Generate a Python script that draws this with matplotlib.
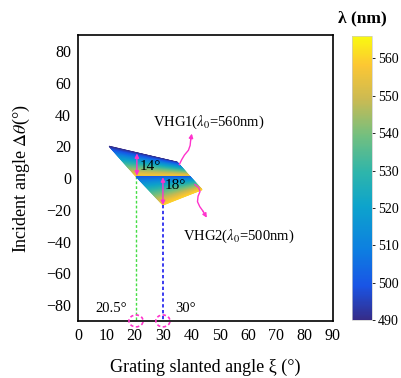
import numpy as np
import matplotlib
matplotlib.use("Agg")
import matplotlib.pyplot as plt
from matplotlib.colors import LinearSegmentedColormap
from matplotlib.patches import Ellipse

plt.rcParams['font.family'] = ['Liberation Serif', 'DejaVu Serif']
plt.rcParams['mathtext.fontset'] = 'stix'

# axis ticks
xi_ticks = [0, 10, 20, 30, 40, 50, 60, 70, 80, 90]
theta_ticks = [-80, -60, -40, -20, 0, 20, 40, 60, 80]
lam_ticks = [490, 500, 510, 520, 530, 540, 550, 560]

# band corners: first edge (a0, a1) and opposite edge (b0, b1)
vhg1_xi = [11, 35, 20.5, 39.5]
vhg1_theta = [20, 10, 1, 1]
vhg1_lam = [490, 560]

vhg2_xi = [20.5, 39.5, 30, 43.8]
vhg2_theta = [1, 1, -17, -7.3]
vhg2_lam = [500, 560]

# design slant angles
xi_design = [20.5, 30]
xi_labels = ['20.5°', '30°']

# squiggly pointers to the band labels
ptr1_xi = [35.8, 36.6, 37.6, 39.0, 39.6, 39.8, 40.2]
ptr1_theta = [8.5, 11.5, 14.5, 17.5, 20.5, 24.0, 28.0]
ptr2_xi = [41.3, 42.6, 43.1, 42.4, 42.2, 43.0, 44.2, 45.5]
ptr2_theta = [-4.1, -6.0, -8.5, -11.5, -14.9, -18.0, -21.0, -25.0]

parula = LinearSegmentedColormap.from_list('parula', [
    (0.00, (0.21, 0.17, 0.53)),
    (0.12, (0.10, 0.33, 0.90)),
    (0.25, (0.05, 0.50, 0.88)),
    (0.40, (0.05, 0.64, 0.80)),
    (0.52, (0.18, 0.71, 0.67)),
    (0.65, (0.45, 0.75, 0.50)),
    (0.78, (0.80, 0.73, 0.32)),
    (0.90, (0.99, 0.78, 0.20)),
    (1.00, (0.98, 0.98, 0.06)),
])
vmin, vmax = 490, 566


def band_mesh(xs, ys, lams, n=60):
    v = np.linspace(0, 1, n)[:, None]
    X = (1 - v) * np.array(xs[:2]) + v * np.array(xs[2:])
    Y = (1 - v) * np.array(ys[:2]) + v * np.array(ys[2:])
    C = ((1 - v) * lams[0] + v * lams[1]) * np.ones((1, 2))
    return X, Y, C


fig = plt.figure(figsize=(4.01, 3.78), dpi=100)
ax = fig.add_axes([0.1945, 0.151, 0.6355, 0.756])

for xs, ys, lams in [(vhg1_xi, vhg1_theta, vhg1_lam), (vhg2_xi, vhg2_theta, vhg2_lam)]:
    X, Y, C = band_mesh(xs, ys, lams)
    mesh = ax.pcolormesh(X, Y, C, shading='gouraud', cmap=parula,
                         vmin=vmin, vmax=vmax, zorder=2)

# projection lines down to the slant axis
ax.plot([xi_design[0], xi_design[0]], [vhg1_theta[2], -90], color='#44dd44',
        lw=1.0, ls=(0, (2, 1.5)), zorder=1)
ax.plot([xi_design[1], xi_design[1]], [vhg2_theta[2], -90], color='#1a1aee',
        lw=1.2, ls=(0, (2, 1.5)), zorder=3)
for x in xi_design:
    ax.add_patch(Ellipse((x, -90), 5.0, 7.5, fill=False, ec='#ff33cc', lw=1.2,
                         ls=(0, (2, 1.5)), clip_on=False, zorder=5))
ax.text(6, -82, xi_labels[0], fontsize=10.5, va='center')
ax.text(34.5, -82, xi_labels[1], fontsize=10.5, va='center')

# angular widths
pink = '#ff33cc'
ax.annotate('', xy=(20.8, 15.5), xytext=(20.8, 1.5),
            arrowprops=dict(arrowstyle='<|-|>', color=pink, lw=1.0,
                            mutation_scale=6, shrinkA=0, shrinkB=0), zorder=4)
ax.annotate('', xy=(30, 0.5), xytext=(30, -17),
            arrowprops=dict(arrowstyle='<|-|>', color=pink, lw=1.0,
                            mutation_scale=6, shrinkA=0, shrinkB=0), zorder=4)
ax.text(25.5, 7.5, '14°', fontsize=11, ha='center', va='center', zorder=6)
ax.text(34.5, -4.5, '18°', fontsize=11, ha='center', va='center', zorder=6)

# pointers to labels
ax.plot(ptr1_xi[:-1], ptr1_theta[:-1], color=pink, lw=1.0, zorder=4)
ax.annotate('', xy=(ptr1_xi[-1], ptr1_theta[-1]), xytext=(ptr1_xi[-2], ptr1_theta[-2]),
            arrowprops=dict(arrowstyle='-|>', color=pink, lw=1.0,
                            mutation_scale=6, shrinkA=0, shrinkB=0))
ax.plot(ptr2_xi[:-1], ptr2_theta[:-1], color=pink, lw=1.0, zorder=4)
ax.annotate('', xy=(ptr2_xi[-1], ptr2_theta[-1]), xytext=(ptr2_xi[-2], ptr2_theta[-2]),
            arrowprops=dict(arrowstyle='-|>', color=pink, lw=1.0,
                            mutation_scale=6, shrinkA=0, shrinkB=0))
ax.text(26.5, 35, r'VHG1($\lambda_0$=560nm)', fontsize=10.5, va='center')
ax.text(37, -37, r'VHG2($\lambda_0$=500nm)', fontsize=10.5, va='center')

ax.set_xlim(0, 90)
ax.set_ylim(-90, 90)
ax.set_xticks(xi_ticks)
ax.set_yticks(theta_ticks)
ax.tick_params(length=0, labelsize=11.5, pad=5)
for s in ax.spines.values():
    s.set_linewidth(1.2)
ax.set_xlabel('Grating slanted angle ξ (°)', fontsize=13, labelpad=11)
ax.set_ylabel(r'Incident angle $\Delta\theta$(°)', fontsize=13, labelpad=10)

cax = fig.add_axes([0.878, 0.153, 0.05, 0.752])
cb = fig.colorbar(mesh, cax=cax, ticks=lam_ticks)
cb.outline.set_linewidth(0.5)
cb.outline.set_edgecolor('#cccccc')
cax.tick_params(length=2, width=0.6, labelsize=10, pad=2)
cax.set_title('λ (nm)', fontsize=12.5, pad=10, fontweight='semibold')

fig.savefig('out.png', dpi=100)
